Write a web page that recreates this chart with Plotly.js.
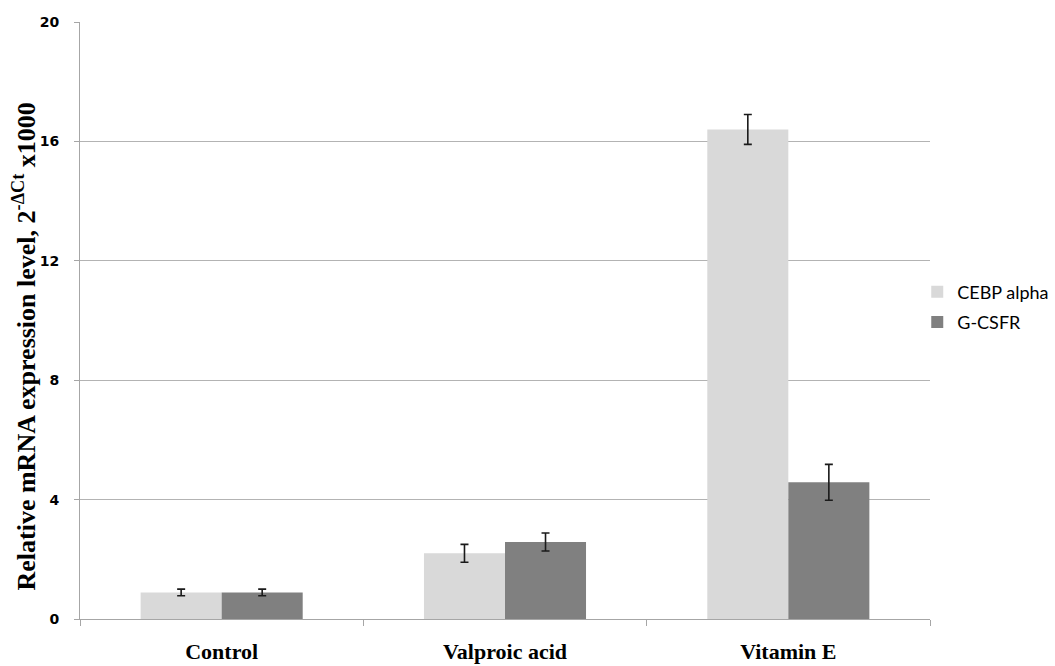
<!DOCTYPE html>
<html>
<head>
<meta charset="utf-8">
<script src="https://cdn.plot.ly/plotly-3.0.1.min.js"></script>
<style>html,body{margin:0;padding:0;background:#fff;}#chart{width:1055px;height:666px;}</style>
</head>
<body>
<div id="chart"></div>
<script>
var categories = ["Control", "Valproic acid", "Vitamin E"];
var seriesNames = ["CEBP alpha", "G-CSFR"];
var cebpValues = [0.89, 2.2, 16.4];
var cebpErrors = [0.11, 0.3, 0.5];
var gcsfrValues = [0.89, 2.58, 4.58];
var gcsfrErrors = [0.11, 0.3, 0.6];
var yTicks = [0, 4, 8, 12, 16, 20];
var yTitle = "Relative mRNA expression level, 2<sup>-ΔCt</sup> x1000";

var errStyle = {type: "data", visible: true, color: "#1a1a1a", thickness: 1.6, width: 4};

var traces = [
  {type: "bar", name: seriesNames[0], x: categories, y: cebpValues, legendgroup: "a",
   marker: {color: "#d9d9d9"},
   error_y: Object.assign({array: cebpErrors}, errStyle)},
  {type: "bar", name: seriesNames[1], x: categories, y: gcsfrValues, legendgroup: "b",
   marker: {color: "#808080"},
   error_y: Object.assign({array: gcsfrErrors}, errStyle)}
];

var layout = {
  width: 1055, height: 666,
  margin: {l: 80, r: 125, t: 22, b: 47, autoexpand: false},
  paper_bgcolor: "#ffffff", plot_bgcolor: "#ffffff",
  barmode: "group", bargap: 0.428, bargroupgap: 0,
  showlegend: true,
  legend: {x: 0.985, y: 0.5226, xanchor: "left", yanchor: "middle",
    font: {family: "Lato, 'Open Sans', sans-serif", size: 18, color: "#000"},
    itemwidth: 30, tracegroupgap: 4, traceorder: "grouped", bgcolor: "rgba(0,0,0,0)"},
  xaxis: {
    type: "category", showline: true, linecolor: "#a6a6a6", linewidth: 1,
    ticks: "outside", tickson: "boundaries", ticklen: 6, tickcolor: "#a6a6a6",
    ticklabelstandoff: 13,
    tickfont: {family: "'Liberation Serif', 'Times New Roman', serif", size: 22, color: "#000", weight: "bold"},
    showgrid: false, zeroline: false, fixedrange: true
  },
  yaxis: {
    range: [0, 20], tickmode: "array", tickvals: yTicks, ticktext: yTicks.map(String),
    showline: true, linecolor: "#a6a6a6", linewidth: 1,
    ticks: "outside", ticklen: 5, tickcolor: "#a6a6a6",
    ticklabelstandoff: 12,
    showgrid: true, gridcolor: "#b3b3b3", gridwidth: 1, zeroline: false,
    tickfont: {family: "'DejaVu Sans', Verdana, sans-serif", size: 14, color: "#000", weight: "bold"},
    fixedrange: true
  },
  annotations: [{
    text: yTitle, xref: "paper", yref: "paper", x: -0.0655, y: 0.457,
    xanchor: "center", yanchor: "middle", textangle: -90, showarrow: false,
    font: {family: "'Liberation Serif', 'Times New Roman', serif", size: 26, color: "#000", weight: "bold"}
  }]
};

Plotly.newPlot("chart", traces, layout, {displayModeBar: false, staticPlot: true});
</script>
</body>
</html>
